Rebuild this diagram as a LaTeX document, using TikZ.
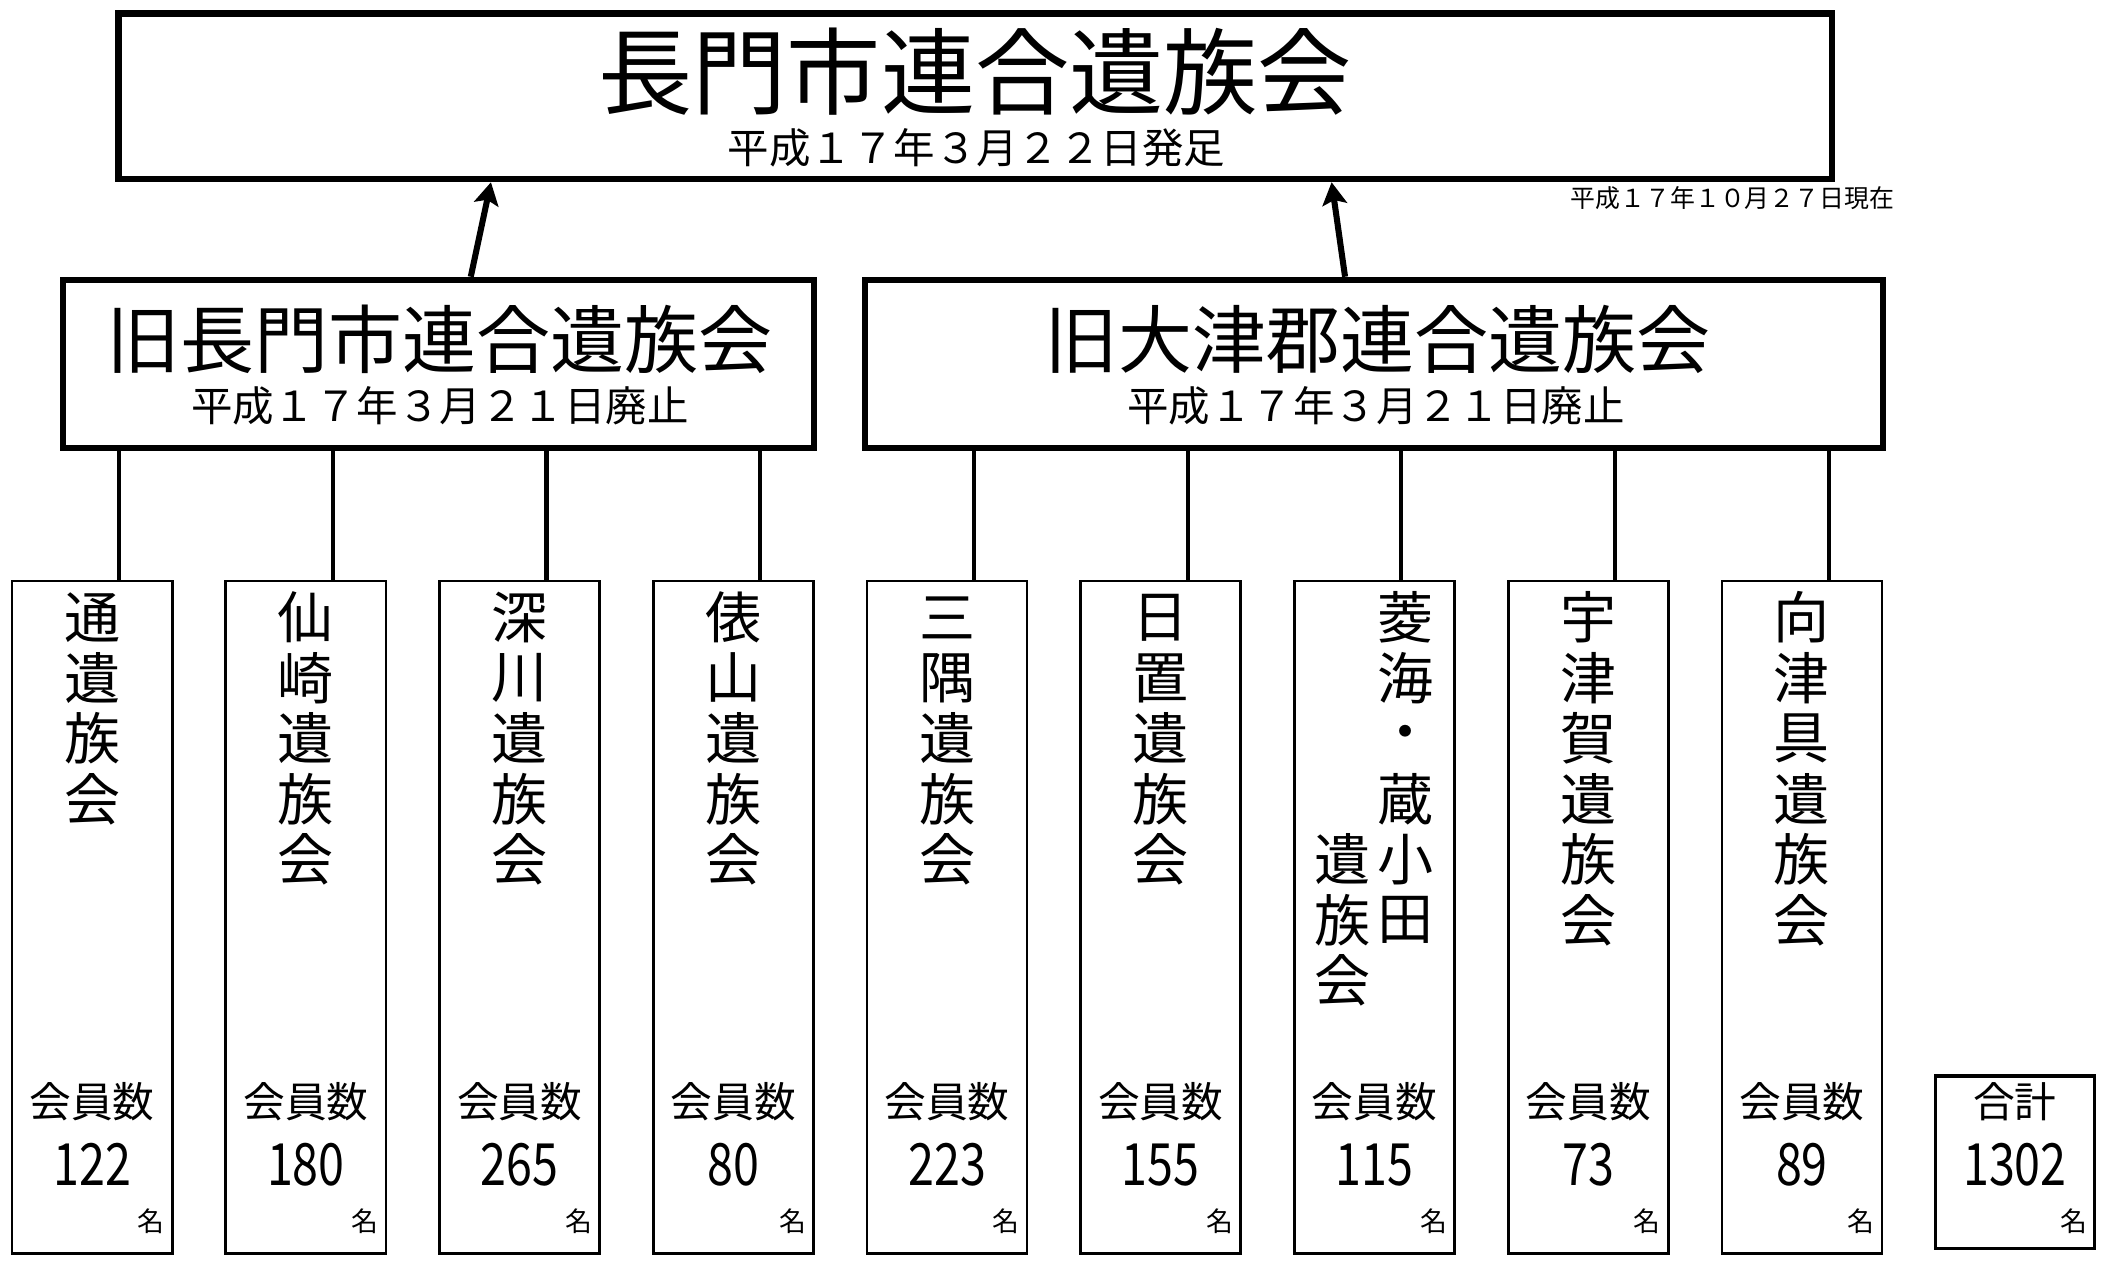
\documentclass[tikz,border=0pt]{standalone}
\usepackage{fontspec}
\setmainfont{Noto Sans CJK JP}
\newfontfamily\numfont{Noto Sans CJK JP}[FakeStretch=0.8]
\usetikzlibrary{arrows.meta}

\begin{document}
\begin{tikzpicture}[x=0.6pt, y=-0.6pt,
  topbox/.style={draw, line width=3pt, minimum width=764.4pt, minimum height=73.8pt, inner sep=0pt},
  oldbox/.style={draw, line width=2.7pt, minimum height=75pt, inner sep=0pt},
  leafbox/.style={draw, line width=1.2pt, minimum width=71.4pt, minimum height=300pt, inner sep=0pt},
  sumbox/.style={draw, line width=1.5pt, minimum width=70.8pt, minimum height=76.8pt, inner sep=0pt},
  link/.style={line width=1.8pt},
  up/.style={line width=2.7pt, -{Stealth[length=10pt, width=11pt, inset=2pt]}},
  bigtitle/.style={inner sep=0pt, font=\fontsize{42}{46}\selectfont},
  midtitle/.style={inner sep=0pt, font=\fontsize{33}{36}\selectfont},
  datetext/.style={inner sep=0pt, font=\fontsize{18.5}{21}\selectfont},
  notetext/.style={inner sep=0pt, font=\fontsize{11.1}{13}\selectfont},
  leafchar/.style={inner sep=0pt, font=\fontsize{25}{27}\selectfont},
  countlabel/.style={inner sep=0pt, font=\fontsize{18.6}{20}\selectfont},
  countnum/.style={inner sep=0pt, font=\numfont\fontsize{26}{28}\selectfont},
  unitmark/.style={inner sep=0pt, font=\fontsize{12}{14}\selectfont}]
\useasboundingbox (0,0) rectangle (1565,942);

% new association
\node[topbox] (top) at (725,71.5) {};
\node[bigtitle] (toptitle) at (725,53) {長門市連合遺族会};
\node[datetext] (topdate) at (726,110) {平成１７年３月２２日発足};
\node[notetext] (asof) at (1288,147) {平成１７年１０月２７日現在};

% old associations
\node[oldbox, minimum width=334.8pt] (old1) at (326,270.5) {};
\node[midtitle] (old1title) at (327,252) {旧長門市連合遺族会};
\node[datetext] (old1date) at (327,302) {平成１７年３月２１日廃止};
\node[oldbox, minimum width=454.2pt] (old2) at (1021.5,270.5) {};
\node[midtitle] (old2title) at (1024,252) {旧大津郡連合遺族会};
\node[datetext] (old2date) at (1023,302) {平成１７年３月２１日廃止};

\draw[up] ([xshift=14.4pt]old1.north) -- ([xshift=-216pt]top.south);
\draw[up] ([xshift=-12.9pt]old2.north) -- ([xshift=159pt]top.south);

% local associations
\foreach \i/\num in {1/122,2/180,3/265,4/80,5/223,6/155,7/115,8/73,9/89} {
  \node[leafbox] (leaf\i) at ({68.5+158.9*(\i-1)},682) {};
  \path (leaf\i.center) ++(0,137) node[countlabel] (leaf\i-label) {会員数};
  \path (leaf\i.center) ++(0,184) node[countnum] (leaf\i-num) {\num};
  \path (leaf\i.center) ++(44,226) node[unitmark] (leaf\i-unit) {名};
}
\foreach \i/\chars in {1/{通,遺,族,会},2/{仙,崎,遺,族,会},3/{深,川,遺,族,会},4/{俵,山,遺,族,会},
    5/{三,隅,遺,族,会},6/{日,置,遺,族,会},8/{宇,津,賀,遺,族,会},9/{向,津,具,遺,族,会}}
  \foreach \c [count=\j from 0] in \chars
    \path (leaf\i.north) ++(0,{28+45*\j}) node[leafchar] (leaf\i-c\j) {\c};
% two columns in box 7
\foreach \c [count=\j from 0] in {菱,海,・,蔵,小,田}
  \path (leaf7.north) ++(23,{28+45*\j}) node[leafchar] (leaf7-r\j) {\c};
\foreach \c [count=\j from 4] in {遺,族,会}
  \path (leaf7.north) ++(-24,{28+45*\j}) node[leafchar] (leaf7-l\j) {\c};

\foreach \i in {1,...,4}
  \draw[link] ([xshift=12pt]leaf\i.north) -- ([xshift=12pt]leaf\i.north |- old1.south);
\foreach \i in {5,...,9}
  \draw[link] ([xshift=12pt]leaf\i.north) -- ([xshift=12pt]leaf\i.north |- old2.south);

% total
\node[sumbox] (total) at (1498,864) {};
\path (total.center) ++(0,-45) node[countlabel] (total-label) {合計};
\path (total.center) ++(0,2) node[countnum] (total-num) {1302};
\path (total.center) ++(44,44) node[unitmark] (total-unit) {名};
\end{tikzpicture}
\end{document}
